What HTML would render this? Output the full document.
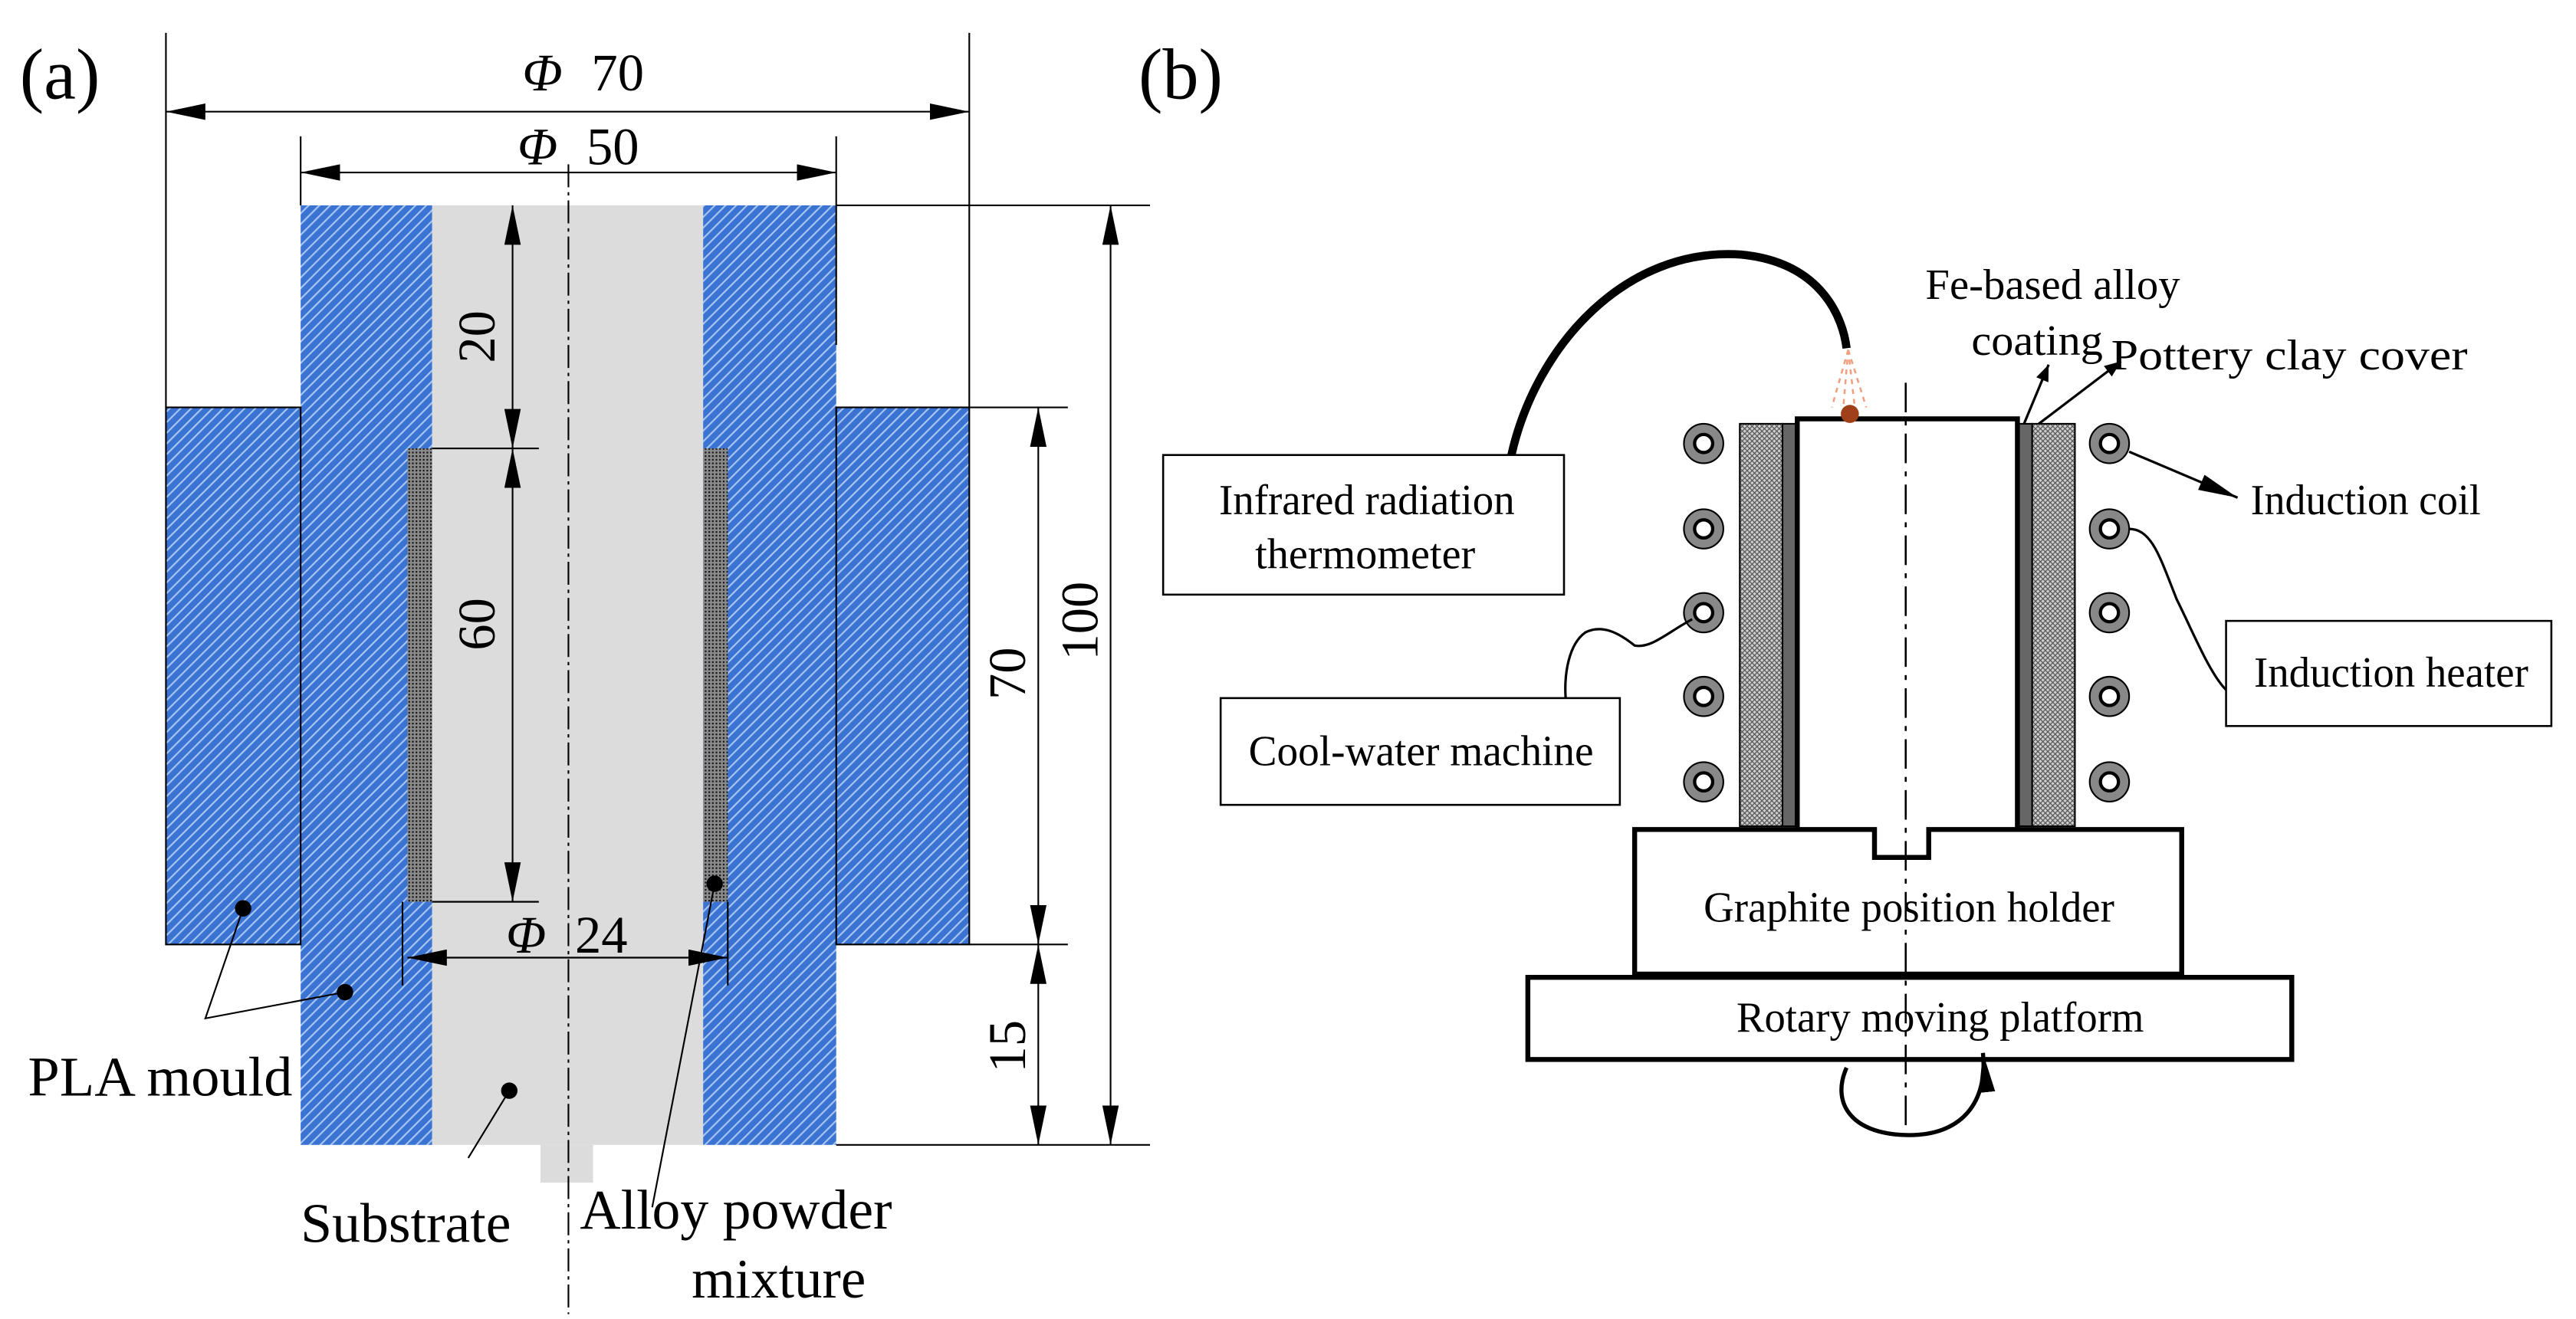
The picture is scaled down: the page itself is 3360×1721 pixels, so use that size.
<!DOCTYPE html>
<html><head><meta charset="utf-8"><style>
html,body{margin:0;padding:0;background:#fff;}
svg{display:block;}
text{font-family:"Liberation Serif",serif;fill:#000;}
</style></head><body>
<svg width="3360" height="1721" viewBox="0 0 1568 803" preserveAspectRatio="none" xmlns="http://www.w3.org/2000/svg">
<defs>
<pattern id="hatch" patternUnits="userSpaceOnUse" width="4.6" height="4.6" patternTransform="rotate(45)">
<rect width="4.6" height="4.6" fill="#3b73d3"/>
<rect x="0" width="1" height="4.6" fill="#a8c6f2"/>
</pattern>
<pattern id="dots" patternUnits="userSpaceOnUse" width="2.2" height="2.2">
<rect width="2.2" height="2.2" fill="#8a8a8a"/>
<rect width="1" height="1" fill="#111"/>
</pattern>
<pattern id="xh" patternUnits="userSpaceOnUse" width="3" height="3">
<rect width="3" height="3" fill="#d0d0d0"/>
<path d="M0 0L3 3M3 0L0 3" stroke="#555" stroke-width="0.6"/>
</pattern>
<marker id="ar" markerWidth="10" markerHeight="8" refX="10" refY="4" orient="auto-start-reverse" markerUnits="userSpaceOnUse">
<path d="M0 0L10 4L0 8z" fill="#000"/>
</marker>
<marker id="arL" markerWidth="24" markerHeight="10" refX="24" refY="5" orient="auto-start-reverse" markerUnits="userSpaceOnUse">
<path d="M0 0L24 5L0 10z" fill="#000"/>
</marker>
</defs>

<!-- Panel (a) -->
<text x="12" y="60" font-size="44">(a)</text>
<rect x="263" y="125" width="165" height="572" fill="#dcdcdc"/>
<rect x="329" y="697" width="32" height="23" fill="#dcdcdc"/>
<rect x="183" y="125" width="80" height="572" fill="url(#hatch)"/>
<rect x="428" y="125" width="81" height="572" fill="url(#hatch)"/>
<rect x="101" y="248" width="82" height="327" fill="url(#hatch)" stroke="#000" stroke-width="1"/>
<rect x="509" y="248" width="81" height="327" fill="url(#hatch)" stroke="#000" stroke-width="1"/>
<rect x="248" y="273" width="15" height="276" fill="url(#dots)"/>
<rect x="428" y="273" width="15" height="276" fill="url(#dots)"/>
<line x1="346" y1="100" x2="346" y2="800" stroke="#000" stroke-width="1" stroke-dasharray="14,3,2,3"/>
<g stroke="#000" stroke-width="1" fill="none">
<line x1="101" y1="20" x2="101" y2="248"/>
<line x1="590" y1="20" x2="590" y2="248"/>
<line x1="183" y1="83" x2="183" y2="125"/>
<line x1="509" y1="83" x2="509" y2="210"/>
<line x1="509" y1="125" x2="700" y2="125"/>
<line x1="590" y1="248" x2="650" y2="248"/>
<line x1="590" y1="575" x2="650" y2="575"/>
<line x1="509" y1="697" x2="700" y2="697"/>
<line x1="263" y1="273" x2="328" y2="273"/>
<line x1="263" y1="549" x2="328" y2="549"/>
<line x1="245" y1="549" x2="245" y2="600"/>
<line x1="443" y1="549" x2="443" y2="600"/>
<line x1="101" y1="68" x2="590" y2="68" marker-start="url(#arL)" marker-end="url(#arL)"/>
<line x1="183" y1="105" x2="509" y2="105" marker-start="url(#arL)" marker-end="url(#arL)"/>
<line x1="248" y1="583" x2="443" y2="583" marker-start="url(#arL)" marker-end="url(#arL)"/>
<line x1="312" y1="125" x2="312" y2="273" marker-start="url(#arL)" marker-end="url(#arL)"/>
<line x1="312" y1="273" x2="312" y2="549" marker-start="url(#arL)" marker-end="url(#arL)"/>
<line x1="632" y1="248" x2="632" y2="575" marker-start="url(#arL)" marker-end="url(#arL)"/>
<line x1="632" y1="575" x2="632" y2="697" marker-start="url(#arL)" marker-end="url(#arL)"/>
<line x1="676" y1="125" x2="676" y2="697" marker-start="url(#arL)" marker-end="url(#arL)"/>
<polyline points="148,553 125,620 210,604"/>
<line x1="285" y1="705" x2="310" y2="664"/>
<line x1="397" y1="735" x2="435" y2="538"/>
</g>
<g fill="#000">
<circle cx="148" cy="553" r="5"/><circle cx="210" cy="604" r="5"/>
<circle cx="310" cy="664" r="5"/><circle cx="435" cy="538" r="5"/>
</g>
<g font-size="32">
<text x="318" y="55" font-style="italic">Φ</text><text x="360" y="55">70</text>
<text x="315" y="100" font-style="italic">Φ</text><text x="357" y="100">50</text>
<text x="308" y="580" font-style="italic">Φ</text><text x="350" y="580">24</text>
<text transform="translate(301,205) rotate(-90)" text-anchor="middle">20</text>
<text transform="translate(301,380) rotate(-90)" text-anchor="middle">60</text>
<text transform="translate(624,410) rotate(-90)" text-anchor="middle">70</text>
<text transform="translate(624,637) rotate(-90)" text-anchor="middle">15</text>
<text transform="translate(668,378) rotate(-90)" text-anchor="middle">100</text>
</g>
<g font-size="34">
<text x="17" y="667" textLength="161" lengthAdjust="spacingAndGlyphs">PLA mould</text>
<text x="183" y="756" textLength="128" lengthAdjust="spacingAndGlyphs">Substrate</text>
<text x="353" y="748" textLength="190" lengthAdjust="spacingAndGlyphs">Alloy powder</text>
<text x="421" y="790" textLength="106" lengthAdjust="spacingAndGlyphs">mixture</text>
</g>

<!-- Panel (b) -->
<text x="693" y="60" font-size="44">(b)</text>
<g stroke="#000" fill="none">
<path d="M920,277 C935,210 990,150 1060,155 C1110,160 1122,195 1124,212" stroke-width="5"/>
<rect x="708" y="277" width="244" height="85" stroke-width="1.2" fill="#fff"/>
<rect x="743" y="425" width="243" height="65" stroke-width="1.2" fill="#fff"/>
<rect x="1355" y="378" width="198" height="64" stroke-width="1.2" fill="#fff"/>
</g>
<g stroke="#f0a080" stroke-width="1.2" stroke-dasharray="3,3">
<line x1="1125" y1="213" x2="1115" y2="248"/>
<line x1="1125" y1="213" x2="1122" y2="248"/>
<line x1="1125" y1="213" x2="1129" y2="248"/>
<line x1="1125" y1="213" x2="1136" y2="248"/>
</g>
<rect x="1059" y="258" width="26" height="245" fill="url(#xh)" stroke="#000" stroke-width="1"/>
<rect x="1085" y="258" width="8" height="245" fill="#666" stroke="#000" stroke-width="1"/>
<rect x="1228" y="258" width="9" height="245" fill="#666" stroke="#000" stroke-width="1"/>
<rect x="1237" y="258" width="26" height="245" fill="url(#xh)" stroke="#000" stroke-width="1"/>
<path d="M1094,505 L1094,255 L1228,255 L1228,505" fill="#fff" stroke="#000" stroke-width="3"/>
<circle cx="1126" cy="252" r="5.5" fill="#a0401a"/>
<path d="M995,505 L1141,505 L1141,522 L1174,522 L1174,505 L1328,505 L1328,593 L995,593 Z" fill="#fff" stroke="#000" stroke-width="3"/>
<rect x="930" y="595" width="465" height="50" fill="#fff" stroke="#000" stroke-width="3"/>
<line x1="1160" y1="233" x2="1160" y2="692" stroke="#000" stroke-width="1.2" stroke-dasharray="18,5,3,5"/>
<g stroke="#000" stroke-width="1">
<g fill="#888">
<circle cx="1037" cy="270" r="12"/><circle cx="1037" cy="322" r="12"/><circle cx="1037" cy="373" r="12"/><circle cx="1037" cy="424" r="12"/><circle cx="1037" cy="476" r="12"/>
<circle cx="1284" cy="270" r="12"/><circle cx="1284" cy="322" r="12"/><circle cx="1284" cy="373" r="12"/><circle cx="1284" cy="424" r="12"/><circle cx="1284" cy="476" r="12"/>
</g>
<g fill="#fff" stroke-width="2">
<circle cx="1037" cy="270" r="5.5"/><circle cx="1037" cy="322" r="5.5"/><circle cx="1037" cy="373" r="5.5"/><circle cx="1037" cy="424" r="5.5"/><circle cx="1037" cy="476" r="5.5"/>
<circle cx="1284" cy="270" r="5.5"/><circle cx="1284" cy="322" r="5.5"/><circle cx="1284" cy="373" r="5.5"/><circle cx="1284" cy="424" r="5.5"/><circle cx="1284" cy="476" r="5.5"/>
</g>
</g>
<g stroke="#000" fill="none" stroke-width="1.5">
<path d="M1030,377 C1015,385 1005,395 995,393 C985,385 975,380 965,385 C955,392 952,410 953,425"/>
<path d="M1296,322 C1310,322 1315,340 1325,365 C1335,385 1345,410 1355,420"/>
<line x1="1232" y1="258" x2="1247" y2="222" marker-end="url(#ar)"/>
<line x1="1241" y1="258" x2="1291" y2="220" marker-end="url(#ar)"/>
<line x1="1296" y1="275" x2="1362" y2="303" marker-end="url(#arL)"/>
<path d="M1124,650 C1115,670 1125,690 1160,691 C1195,692 1210,670 1207,641" stroke-width="2.5" marker-end="url(#arL)"/>
</g>
<g font-size="26">
<text x="742" y="313" textLength="180" lengthAdjust="spacingAndGlyphs">Infrared radiation</text>
<text x="764" y="346" textLength="134" lengthAdjust="spacingAndGlyphs">thermometer</text>
<text x="760" y="466" textLength="210" lengthAdjust="spacingAndGlyphs">Cool-water machine</text>
<text x="1372" y="418" textLength="167" lengthAdjust="spacingAndGlyphs">Induction heater</text>
<text x="1370" y="313" textLength="140" lengthAdjust="spacingAndGlyphs">Induction coil</text>
<text x="1172" y="182" textLength="155" lengthAdjust="spacingAndGlyphs">Fe-based alloy</text>
<text x="1200" y="216" textLength="80" lengthAdjust="spacingAndGlyphs">coating</text>
<text x="1285" y="225" textLength="217" lengthAdjust="spacingAndGlyphs">Pottery clay cover</text>
<text x="1037" y="561" textLength="250" lengthAdjust="spacingAndGlyphs">Graphite position holder</text>
<text x="1057" y="628" textLength="248" lengthAdjust="spacingAndGlyphs">Rotary moving platform</text>
</g>
</svg>
</body></html>
